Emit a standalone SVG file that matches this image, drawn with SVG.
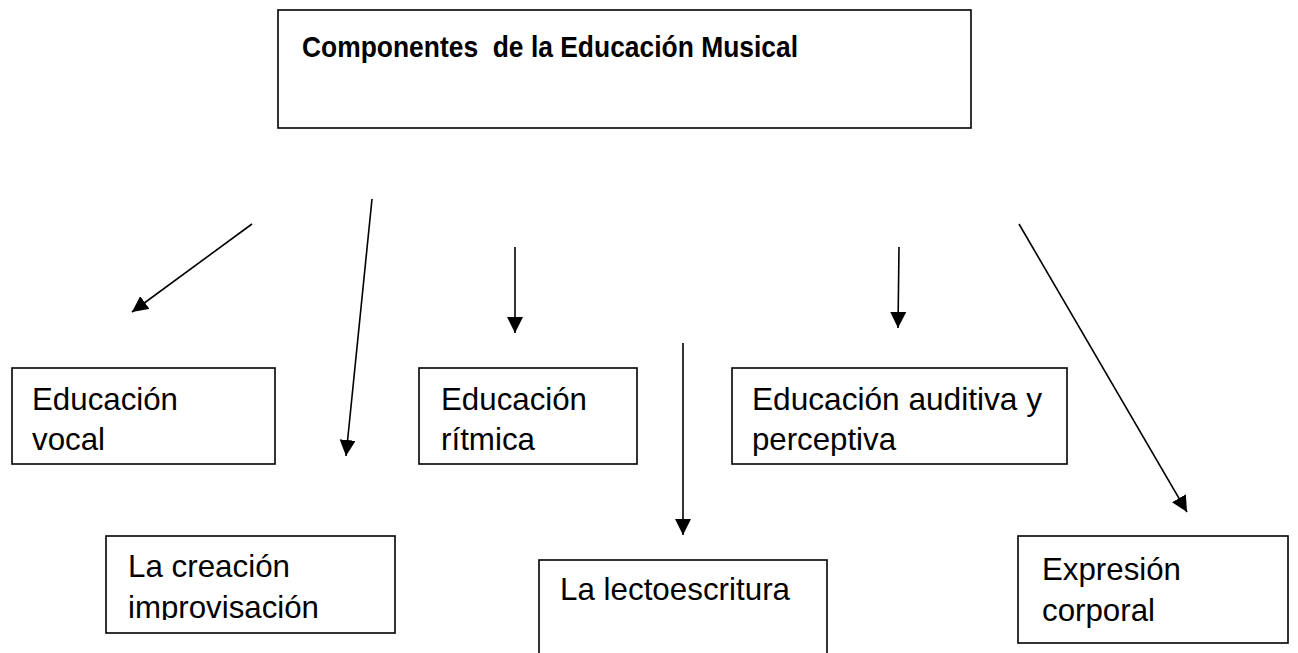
<svg xmlns="http://www.w3.org/2000/svg" width="1298" height="653" viewBox="0 0 1298 653">
<style>
.box{fill:#fff;stroke:#000;stroke-width:1.6}
.t{font-family:"Liberation Sans",Arial,sans-serif;font-size:32px;fill:#000}
.title{font-family:"Liberation Sans",Arial,sans-serif;font-size:30px;font-weight:bold;fill:#000}
.c{stroke:#000;stroke-width:1.6;fill:none;marker-end:url(#ah)}
</style>
<defs>
<marker id="ah" viewBox="0 0 10 10" refX="10" refY="5" markerUnits="userSpaceOnUse" markerWidth="16" markerHeight="16" orient="auto">
<path d="M0,0 L10,5 L0,10 z" fill="#000"/>
</marker>
<clipPath id="clipAud"><rect x="732" y="368" width="335" height="88"/></clipPath>
<clipPath id="clipCre"><rect x="106" y="536" width="289" height="84"/></clipPath>
</defs>
<rect width="1298" height="653" fill="#fff"/>
<g id="connectors">
<line class="c" x1="252" y1="224" x2="132" y2="312"/>
<line class="c" x1="372" y1="199" x2="346" y2="456"/>
<line class="c" x1="515" y1="247" x2="515" y2="333"/>
<line class="c" x1="683" y1="343" x2="683" y2="535"/>
<line class="c" x1="899" y1="247" x2="898" y2="328"/>
<line class="c" x1="1019" y1="224" x2="1187" y2="512"/>
</g>
<g id="title">
<rect class="box" x="278" y="10" width="693" height="118"/>
<text class="title" x="302" y="57" textLength="496" lengthAdjust="spacingAndGlyphs" xml:space="preserve">Componentes  de la Educación Musical</text>
</g>
<g id="vocal">
<rect class="box" x="12" y="368" width="263" height="96"/>
<text class="t" x="32" y="410" textLength="146" lengthAdjust="spacingAndGlyphs">Educación</text>
<text class="t" x="32" y="450" textLength="73" lengthAdjust="spacingAndGlyphs">vocal</text>
</g>
<g id="ritmica">
<rect class="box" x="419" y="368" width="218" height="96"/>
<text class="t" x="441" y="410" textLength="146" lengthAdjust="spacingAndGlyphs">Educación</text>
<text class="t" x="441" y="450" textLength="94" lengthAdjust="spacingAndGlyphs">rítmica</text>
</g>
<g id="auditiva">
<rect class="box" x="732" y="368" width="335" height="96"/>
<g clip-path="url(#clipAud)">
<text class="t" x="752" y="410" textLength="290" lengthAdjust="spacingAndGlyphs">Educación auditiva y</text>
<text class="t" x="752" y="450" textLength="144" lengthAdjust="spacingAndGlyphs">perceptiva</text>
</g>
</g>
<g id="creacion">
<rect class="box" x="106" y="536" width="289" height="97"/>
<g clip-path="url(#clipCre)">
<text class="t" x="128" y="577" textLength="162" lengthAdjust="spacingAndGlyphs">La creación</text>
<text class="t" x="128" y="618" textLength="191" lengthAdjust="spacingAndGlyphs">improvisación</text>
</g>
</g>
<g id="lectoescritura">
<rect class="box" x="539" y="560" width="288" height="110"/>
<text class="t" x="560" y="600" textLength="230" lengthAdjust="spacingAndGlyphs">La lectoescritura</text>
</g>
<g id="expresion">
<rect class="box" x="1018" y="536" width="270" height="107"/>
<text class="t" x="1042" y="580" textLength="139" lengthAdjust="spacingAndGlyphs">Expresión</text>
<text class="t" x="1042" y="621" textLength="113" lengthAdjust="spacingAndGlyphs">corporal</text>
</g>
</svg>
